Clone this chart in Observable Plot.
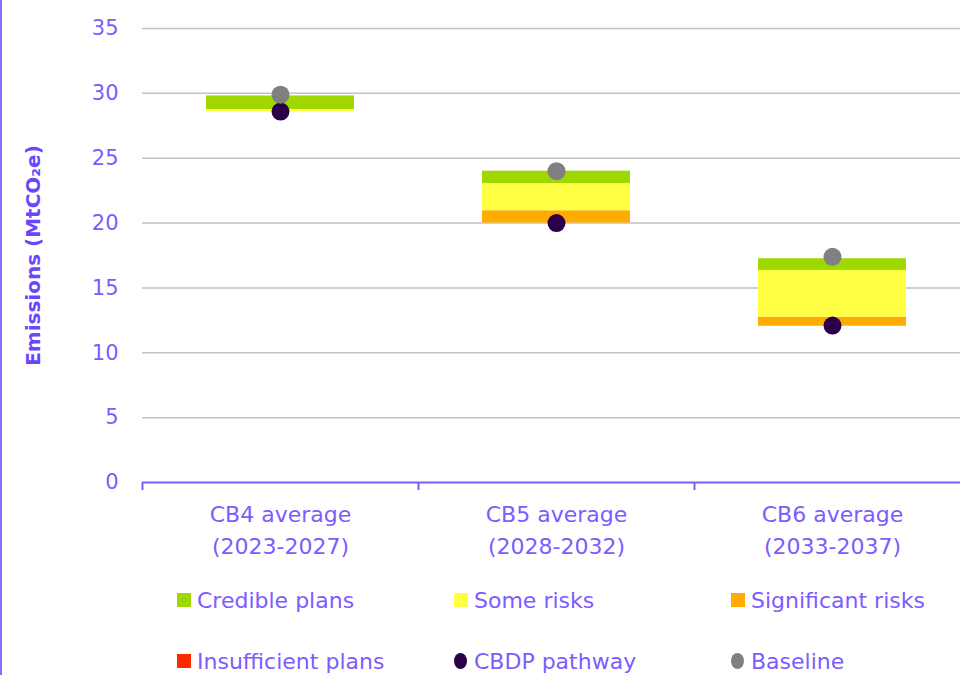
<!DOCTYPE html>
<html>
<head>
<meta charset="utf-8">
<script src="https://cdn.jsdelivr.net/npm/d3@7"></script>
<script src="https://cdn.jsdelivr.net/npm/@observablehq/plot@0.6"></script>
<style>
  html, body { margin: 0; padding: 0; background: #ffffff; overflow: hidden; width: 960px; height: 675px; }
  #wrap { position: relative; width: 960px; height: 675px; overflow: hidden; }
  #border { position: absolute; left: 0; top: 0; width: 2px; height: 675px; background: #8a6cff; }
  #chart { position: absolute; left: 0; top: 0; }
  #chart svg g[aria-label="y-axis label"] text { font-weight: bold; font-size: 20px; fill: #6b46ff; }
  .legend { position: absolute; left: 0; top: 0; font-family: "DejaVu Sans", sans-serif; font-size: 22px; color: #7c5cff; }
  .item { position: absolute; display: flex; align-items: center; white-space: nowrap; height: 30px; }
  .sw { width: 14px; height: 14px; margin-right: 6px; }
  .dotsw { width: 13px; height: 16px; border-radius: 50%; margin-right: 7px; }
</style>
</head>
<body>
<div id="wrap">
  <div id="chart"></div>
  <div id="border"></div>
  <div class="legend" id="legend"></div>
</div>
<script>
// ---- data ----
const categories = ["CB4 average\n(2023-2027)", "CB5 average\n(2028-2032)", "CB6 average\n(2033-2037)"];
const rangeStart = [28.6, 20.0, 12.05];          // bottom of the stacked range
const insufficientPlans = [0, 0, 0];
const significantRisks = [0, 0.95, 0.7];
const someRisks = [0.15, 2.1, 3.6];
const crediblePlans = [1.05, 0.95, 0.9];
const cbdpPathway = [28.6, 20.0, 12.1];
const baseline = [29.9, 24.0, 17.4];
const yTicks = [0, 5, 10, 15, 20, 25, 30, 35];

const stackNames = ["Insufficient plans", "Significant risks", "Some risks", "Credible plans"];
const stackValues = [insufficientPlans, significantRisks, someRisks, crediblePlans];
const pointNames = ["CBDP pathway", "Baseline"];
const pointValues = [cbdpPathway, baseline];

const colorDomain = ["Credible plans", "Some risks", "Significant risks", "Insufficient plans", "CBDP pathway", "Baseline"];
const colorRange = ["#9fd800", "#ffff44", "#ffab00", "#ff2a00", "#2b0049", "#808080"];

// ---- build tables ----
const segments = [];
categories.forEach((c, i) => {
  let acc = rangeStart[i];
  stackNames.forEach((s, k) => {
    const v = stackValues[k][i];
    segments.push({category: c, series: s, y1: acc, y2: acc + v});
    acc += v;
  });
});
const points = [];
pointNames.forEach((s, k) => categories.forEach((c, i) => points.push({category: c, series: s, value: pointValues[k][i]})));

// ---- layout ----
const purple = "#7c5cff";
const W = 970, H = 570, ML = 142, MR = 0, MT = 28, MB = 88;
const step = (W - ML - MR) / categories.length;
const yLabel = "Emissions (MtCO₂e)";

const chart = Plot.plot({
  width: W, height: H,
  marginLeft: ML, marginRight: MR, marginTop: MT, marginBottom: MB,
  style: {fontFamily: "DejaVu Sans, sans-serif", fontSize: "22px", color: purple, background: "transparent", overflow: "visible", maxWidth: "none"},
  x: {domain: categories, padding: 0, label: null},
  y: {domain: [0, 35], label: yLabel, labelArrow: "none"},
  color: {domain: colorDomain, range: colorRange},
  marks: [
    Plot.gridY(yTicks.filter(v => v > 0), {stroke: "#c2c2c2", strokeOpacity: 1, strokeWidth: 1.5}),
    Plot.axisY(yTicks, {tickSize: 0, tickPadding: 24, fontSize: 21, fill: purple, label: yLabel, labelArrow: "none", labelAnchor: "center", labelOffset: 117}),
    Plot.axisX({tickSize: 0, tickPadding: 17, fontSize: 22, lineHeight: 1.45, fill: purple, label: null}),
    Plot.barY(segments, {x: "category", y1: "y1", y2: "y2", fill: "series", insetLeft: 64, insetRight: 64}),
    Plot.ruleY([0], {stroke: purple, strokeWidth: 2}),
    Plot.ruleX(categories, {x: d => d, dx: -step / 2, insetTop: H - MT - MB, insetBottom: -8, stroke: purple, strokeWidth: 2}),
    Plot.dot(points, {x: "category", y: "value", fill: "series", r: 9})
  ]
});
// remove any direction arrow that an older Plot may still add to the label
chart.querySelectorAll('g[aria-label="y-axis label"] text').forEach(t => {
  t.textContent = t.textContent.replace(/[↑→↓←]/g, "").trim();
});
document.getElementById("chart").appendChild(chart);

// ---- legend ----
const legendItems = [
  {name: "Credible plans", shape: "sq"}, {name: "Some risks", shape: "sq"}, {name: "Significant risks", shape: "sq"},
  {name: "Insufficient plans", shape: "sq"}, {name: "CBDP pathway", shape: "dot"}, {name: "Baseline", shape: "dot"}
];
const legend = document.getElementById("legend");
legendItems.forEach((it, i) => {
  const col = i % 3, row = Math.floor(i / 3);
  const el = document.createElement("div");
  el.className = "item";
  el.style.left = (177 + col * 277) + "px";
  el.style.top = (585 + row * 61) + "px";
  const sw = document.createElement("span");
  sw.className = it.shape === "sq" ? "sw" : "dotsw";
  sw.style.background = colorRange[colorDomain.indexOf(it.name)];
  const tx = document.createElement("span");
  tx.textContent = it.name;
  el.appendChild(sw); el.appendChild(tx);
  legend.appendChild(el);
});
</script>
</body>
</html>
